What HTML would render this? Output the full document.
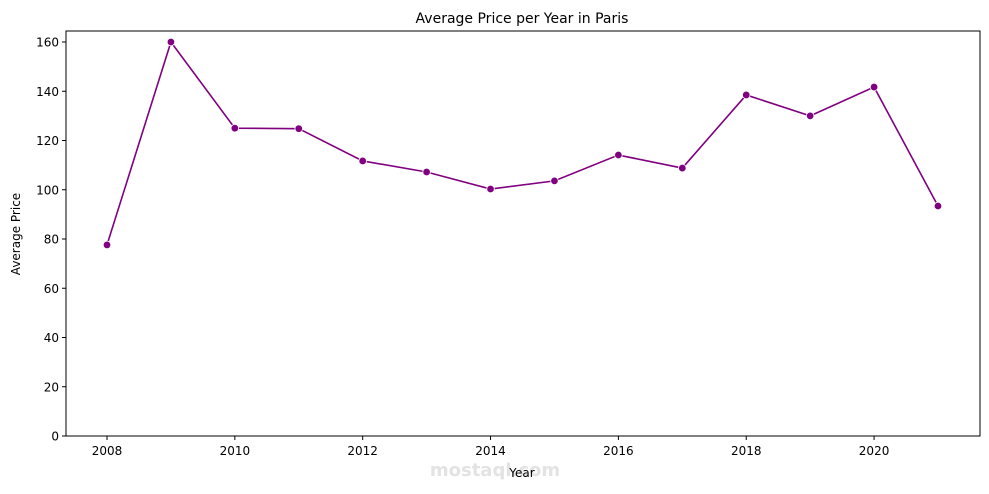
<!DOCTYPE html>
<html><head><meta charset="utf-8"><style>
body{margin:0;background:#fff;font-family:"DejaVu Sans","Liberation Sans",sans-serif}
</style></head><body>
<svg width="989" height="490" xmlns="http://www.w3.org/2000/svg" font-family="DejaVu Sans, Liberation Sans, sans-serif">
<rect width="989" height="490" fill="#fff"/>
<text x="522" y="23" text-anchor="middle" font-size="14">Average Price per Year in Paris</text>
<g id="axes"></g>
<text x="495" y="476" text-anchor="middle" font-size="18" font-weight="bold" fill="#ddd" opacity="0.8">mostaql.com</text>
<text x="522" y="477" text-anchor="middle" font-size="12">Year</text>
<text transform="translate(20,234) rotate(-90)" text-anchor="middle" font-size="12">Average Price</text>
</svg>
<script>
const years=[2008,2009,2010,2011,2012,2013,2014,2015,2016,2017,2018,2019,2020,2021];
const prices=[77.6,160,125,124.8,111.7,107.2,100.3,103.6,114.1,108.8,138.5,130,141.7,93.4];
const xTicks=[2008,2010,2012,2014,2016,2018,2020];
const yTicks=[0,20,40,60,80,100,120,140,160];
const L=66,R=980,T=31,B=436;
const xs=v=>107+(v-2008)*(938-107)/13;
const ys=v=>B-v*(B-42)/160;
const NS="http://www.w3.org/2000/svg";
const g=document.getElementById('axes');
function mk(t,a){const e=document.createElementNS(NS,t);for(const k in a)e.setAttribute(k,a[k]);g.appendChild(e);return e;}
const frame=mk('rect',{x:L,y:T,width:R-L,height:B-T,fill:'none',stroke:'#000','stroke-width':1});


xTicks.forEach(v=>{const x=xs(v);
const tk=mk('line',{x1:x,x2:x,y1:B,y2:B+4,stroke:'#000'});


const t=mk('text',{x:x,y:B+19,'text-anchor':'middle','font-size':12});t.textContent=v;

});
yTicks.forEach(v=>{const y=ys(v);
const tk=mk('line',{x1:L-4,x2:L,y1:y,y2:y,stroke:'#000'});


const t=mk('text',{x:L-7,y:y+4.5,'text-anchor':'end','font-size':12});t.textContent=v;

});
const line=mk('polyline',{points:years.map((y,i)=>xs(y)+','+ys(prices[i])).join(' '),fill:'none',stroke:'purple','stroke-width':1.6});


years.forEach((y,i)=>{const c=mk('circle',{cx:xs(y),cy:ys(prices[i]),r:3.8,fill:'purple',stroke:'#fff','stroke-width':0.8});

});
</script>
</body></html>
